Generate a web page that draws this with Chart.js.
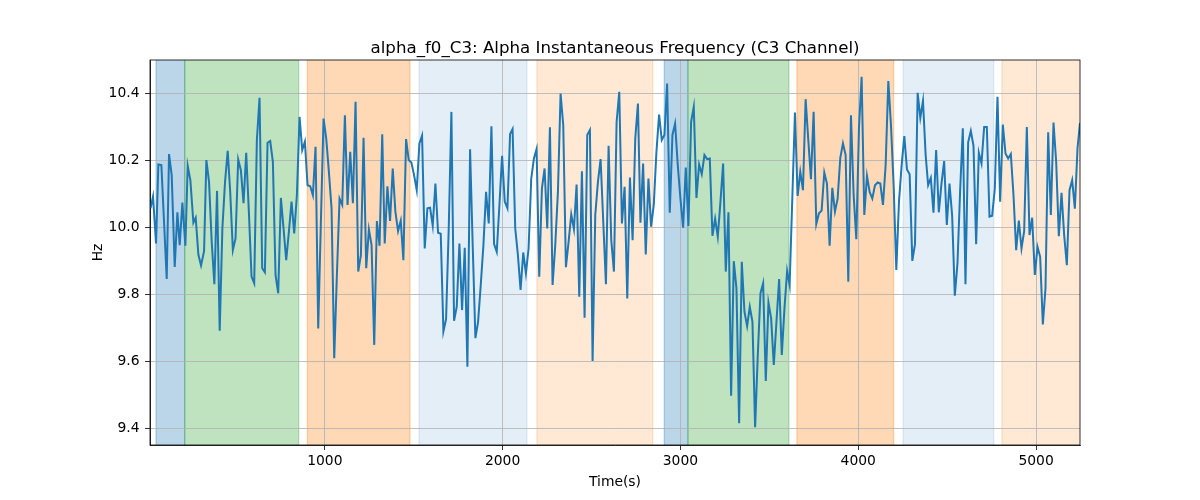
<!DOCTYPE html>
<html><head><meta charset="utf-8">
<script src="https://cdn.jsdelivr.net/npm/chart.js@4.4.1/dist/chart.umd.min.js"></script>
<style>html,body{margin:0;padding:0;background:#fff;}canvas{display:block;}</style>
</head><body>
<canvas id="c" width="1200" height="500" style="width:1200px;height:500px"></canvas>
<script>
const times = [
20,34,51,64,81,111,124,139,156,171,184,199,216,229,244,261,274,289,304,321,334,349,364,379,394,409,424,439,454,468,483,498,513,528,543,558,573,588,603,618,633,648,663,678,693,
708,723,738,753,768,783,798,813,828,843,858,873,888,903,918,933,948,963,978,993,1008,1023,1038,1053,1068,1083,1098,1113,1128,1143,1158,1173,1188,1203,1218,1233,1248,1263,1278,1293,1308,1323,1337,1352,1367,
1382,1397,1412,1427,1442,1457,1472,1487,1502,1517,1532,1547,1562,1577,1592,1607,1622,1637,1652,1667,1682,1697,1712,1727,1742,1757,1772,1787,1802,1817,1832,1847,1862,1877,1892,1907,1922,1937,1952,1967,1982,1997,2012,2027,2042,
2056,2071,2086,2101,2116,2131,2146,2161,2176,2191,2206,2221,2236,2251,2266,2281,2296,2311,2326,2341,2356,2371,2386,2401,2416,2431,2446,2461,2476,2491,2506,2521,2536,2551,2566,2581,2596,2611,2626,2641,2656,2671,2686,2701,2716,
2731,2746,2761,2775,2790,2805,2820,2835,2850,2865,2880,2895,2910,2925,2940,2955,2970,2985,3000,3015,3030,3045,3060,3075,3090,3105,3120,3135,3150,3165,3180,3195,3210,3225,3240,3255,3270,3285,3300,3315,3330,3345,3360,3375,3390,
3405,3420,3435,3450,3465,3480,3495,3510,3525,3540,3555,3570,3585,3600,3614,3629,3644,3659,3674,3689,3704,3719,3734,3749,3764,3779,3794,3809,3824,3839,3854,3869,3884,3899,3914,3929,3944,3959,3974,3989,4004,4019,4034,4049,4064,
4079,4094,4109,4124,4139,4154,4169,4184,4199,4214,4229,4244,4259,4274,4289,4304,4319,4334,4349,4364,4379,4393,4408,4423,4438,4453,4468,4483,4498,4513,4528,4543,4558,4573,4588,4603,4618,4633,4648,4663,4678,4693,4708,4723,4738,
4753,4768,4783,4798,4813,4828,4843,4858,4873,4888,4903,4918,4933,4948,4963,4978,4993,5008,5023,5038,5053,5068,5083,5098,5113,5128,5143,5158,5173,5188,5203,5218,5233,5247
];
const values = [
10.057,10.092,9.952,10.188,10.186,9.846,10.219,10.156,9.882,10.045,9.947,10.074,9.945,10.184,10.141,10.014,10.029,9.919,9.886,9.929,10.201,10.136,9.957,9.830,10.109,9.691,9.997,10.136,10.229,10.106,9.932,9.967,10.203,10.171,10.072,10.223,10.047,9.853,9.833,10.261,10.387,9.878,9.866,10.253,10.258,
10.196,9.858,9.803,10.088,9.997,9.902,9.987,10.077,9.982,10.096,10.330,10.231,10.256,10.126,10.123,10.096,10.241,9.698,10.017,10.325,10.266,10.166,10.057,9.609,9.858,10.086,10.067,10.335,10.067,10.226,10.072,10.375,9.868,9.917,10.268,9.878,9.994,9.947,9.649,10.019,9.945,10.278,9.952,10.123,10.019,
10.176,10.047,9.989,10.020,9.902,10.264,10.201,10.194,10.156,10.111,10.251,10.274,9.937,10.057,10.059,10.005,10.131,9.984,9.981,9.689,9.726,9.997,10.345,9.721,9.763,9.952,9.753,9.939,9.584,10.233,9.942,9.669,9.718,9.828,9.947,10.106,10.012,10.302,9.950,9.927,10.067,10.214,10.077,10.057,10.279,
10.294,9.997,9.917,9.813,9.925,9.863,9.937,10.146,10.206,10.234,9.853,10.116,10.176,9.997,10.299,9.828,9.947,10.106,10.400,10.305,9.881,9.957,10.039,9.995,10.128,9.793,10.168,9.730,10.276,10.291,9.601,10.037,10.136,10.204,10.017,9.830,10.244,9.962,9.868,10.315,10.405,10.012,10.121,9.788,10.149,
9.962,10.266,10.370,10.014,10.191,9.919,10.146,10.002,10.067,10.226,10.337,10.261,10.276,10.430,10.044,10.276,10.310,10.186,10.086,9.999,10.179,10.004,10.315,10.360,10.088,10.188,10.159,10.216,10.204,10.206,9.975,10.026,9.972,10.076,10.191,9.868,10.045,9.497,9.899,9.818,9.415,9.897,9.748,9.705,9.763,
9.718,9.403,9.619,9.803,9.833,9.541,9.775,9.728,9.589,9.718,9.846,9.619,9.758,9.870,9.828,10.086,10.343,10.094,10.166,10.111,10.383,10.261,10.144,10.345,10.010,10.042,10.050,10.164,10.131,9.945,10.118,10.047,10.086,10.208,10.251,10.216,9.838,10.335,10.097,9.965,10.296,10.450,10.037,10.154,10.106,
10.086,10.126,10.134,10.131,10.067,10.186,10.437,10.305,10.126,9.873,10.077,10.186,10.273,10.173,10.159,9.900,9.950,10.402,10.327,10.378,10.216,10.126,10.148,10.044,10.231,10.045,10.131,10.198,10.007,10.131,10.035,9.796,9.893,10.111,10.296,9.830,10.254,10.288,10.244,9.950,10.223,10.191,10.300,10.300,10.032,
10.035,10.116,10.390,10.077,10.307,10.221,10.206,10.219,10.096,9.932,10.020,9.937,9.989,10.300,9.977,10.029,9.858,9.942,9.912,9.710,9.818,10.284,10.037,10.313,10.196,9.974,10.103,9.977,9.887,10.111,10.141,10.056,10.236,10.312
];
const xTicks = [1000, 2000, 3000, 4000, 5000];
const yTicks = [9.4, 9.6, 9.8, 10.0, 10.2, 10.4];
const xMin = 17, xMax = 5247, yMin = 9.35, yMax = 10.5;
const spanStart = [51, 212, 902, 1530, 2193, 2909, 3042, 3655, 4252, 4808];
const spanEnd   = [212, 853, 1479, 2137, 2844, 3042, 3610, 4199, 4762, 5300];
const spanState = ['A', 'B', 'C', 'D', 'E', 'A', 'B', 'C', 'D', 'E'];
const titleText = 'alpha_f0_C3: Alpha Instantaneous Frequency (C3 Channel)';
const xLabel = 'Time(s)';
const yLabel = 'Hz';

const stateColor = {
  A: 'rgba(31,119,180,0.3)',
  B: 'rgba(44,160,44,0.3)',
  C: 'rgba(255,127,14,0.3)',
  D: 'rgba(31,119,180,0.12)',
  E: 'rgba(255,127,14,0.18)'
};
const FAM = "'DejaVu Sans', sans-serif";

const deco = {
  id: 'deco',
  beforeDraw(chart) {
    const {ctx, chartArea: a, scales: {x}} = chart;
    ctx.save();
    ctx.fillStyle = '#fff';
    ctx.fillRect(0, 0, chart.width, chart.height);
    ctx.beginPath();
    ctx.rect(a.left, a.top, a.right - a.left, a.bottom - a.top);
    ctx.clip();
    for (let i = 0; i < spanStart.length; i++) {
      const x0 = x.getPixelForValue(spanStart[i]);
      const x1 = x.getPixelForValue(spanEnd[i]);
      const c = stateColor[spanState[i]];
      ctx.fillStyle = c;
      ctx.fillRect(x0, a.top, x1 - x0, a.bottom - a.top);
      ctx.strokeStyle = c;
      ctx.lineWidth = 1.3;
      ctx.beginPath();
      ctx.moveTo(x0, a.top); ctx.lineTo(x0, a.bottom);
      ctx.moveTo(x1, a.top); ctx.lineTo(x1, a.bottom);
      ctx.stroke();
    }
    ctx.restore();
  },
  afterDatasetsDraw(chart) {
    const {ctx, chartArea: a} = chart;
    ctx.save();
    ctx.strokeStyle = '#000';
    ctx.lineWidth = 0.8;
    ctx.strokeRect(a.left, a.top, a.right - a.left, a.bottom - a.top);
    ctx.fillStyle = '#000';
    ctx.textAlign = 'center';
    ctx.textBaseline = 'alphabetic';
    ctx.font = '16.67px ' + FAM;
    ctx.fillText(titleText, (a.left + a.right) / 2, a.top - 7);
    ctx.font = '13.89px ' + FAM;
    ctx.fillText(xLabel, (a.left + a.right) / 2, 486);
    ctx.translate(101.5, (a.top + a.bottom) / 2);
    ctx.rotate(-Math.PI / 2);
    ctx.fillText(yLabel, 0, 0);
    ctx.restore();
  }
};

new Chart(document.getElementById('c'), {
  type: 'line',
  data: {
    datasets: [{
      data: times.map((t, i) => ({x: t, y: values[i]})),
      borderColor: '#1f77b4',
      borderWidth: 2,
      pointRadius: 0,
      tension: 0,
      fill: false
    }]
  },
  options: {
    responsive: false,
    animation: false,
    devicePixelRatio: 1,
    layout: {padding: {left: 0, right: 120, top: 60, bottom: 0}},
    plugins: {legend: {display: false}, title: {display: false}, tooltip: {enabled: false}},
    scales: {
      x: {
        type: 'linear', min: xMin, max: xMax,
        afterBuildTicks: s => { s.ticks = xTicks.map(v => ({value: v})); },
        afterFit: s => { s.height = 55; },
        grid: {color: '#b0b0b0', lineWidth: 0.8, tickColor: '#000', tickLength: 5, tickWidth: 0.8},
        border: {color: '#000', width: 0.8},
        ticks: {color: '#000', font: {family: FAM, size: 13.89}, padding: 3, maxRotation: 0, autoSkip: false,
                callback: v => String(v)}
      },
      y: {
        type: 'linear', min: yMin, max: yMax,
        afterBuildTicks: s => { s.ticks = yTicks.map(v => ({value: v})); },
        afterFit: s => { s.width = 150; },
        grid: {color: '#b0b0b0', lineWidth: 0.8, tickColor: '#000', tickLength: 5, tickWidth: 0.8},
        border: {color: '#000', width: 0.8},
        ticks: {color: '#000', font: {family: FAM, size: 13.89}, padding: 5.5, autoSkip: false,
                callback: v => Number(v).toFixed(1)}
      }
    }
  },
  plugins: [deco]
});
</script>
</body></html>
